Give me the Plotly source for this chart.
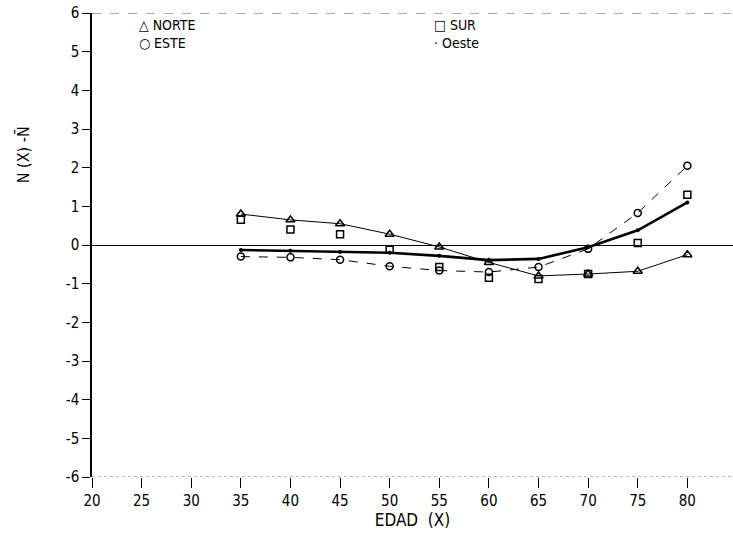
import plotly.graph_objects as go

# Edad (X) y desviación N(X) - N̄ por orientación
edad = [35, 40, 45, 50, 55, 60, 65, 70, 75, 80]
norte = [0.80, 0.65, 0.55, 0.28, -0.05, -0.45, -0.80, -0.75, -0.68, -0.25]
este = [-0.30, -0.32, -0.38, -0.55, -0.66, -0.70, -0.57, -0.10, 0.83, 2.05]
sur = [0.65, 0.40, 0.28, -0.12, -0.57, -0.85, -0.88, -0.75, 0.05, 1.30]
oeste = [-0.13, -0.15, -0.18, -0.20, -0.28, -0.39, -0.36, -0.06, 0.38, 1.10]

x_ticks = list(range(20, 85, 5))
y_ticks = list(range(-6, 7))

FONT = "DejaVu Sans Condensed, Liberation Sans Narrow, Arial Narrow, sans-serif"

fig = go.Figure()

fig.add_trace(go.Scatter(
    x=edad, y=oeste, mode="lines+markers", name="Oeste",
    line=dict(color="black", width=2.6),
    marker=dict(symbol="circle", size=4, color="black"),
))
fig.add_trace(go.Scatter(
    x=edad, y=norte, mode="lines+markers", name="NORTE",
    line=dict(color="black", width=1),
    marker=dict(symbol="triangle-up-open", size=8, color="black", line=dict(width=1.5)),
))
fig.add_trace(go.Scatter(
    x=edad, y=este, mode="lines+markers", name="ESTE",
    line=dict(color="black", width=1, dash="dash"),
    marker=dict(symbol="circle-open", size=7, color="black", line=dict(width=1.5)),
))
fig.add_trace(go.Scatter(
    x=edad, y=sur, mode="markers", name="SUR",
    marker=dict(symbol="square-open", size=7, color="black", line=dict(width=1.5)),
))

# top and bottom frame lines
fig.add_shape(type="line", xref="paper", yref="y", x0=0, x1=1, y0=6, y1=6,
              line=dict(color="#555", width=1, dash="dash"))
fig.add_shape(type="line", xref="paper", yref="y", x0=0, x1=1, y0=-6, y1=-6,
              line=dict(color="#777", width=1, dash="dot"))

# legend written as text
legend_items = [
    ("\u25b3 NORTE", 0.07, 0.975),
    ("\u25cb ESTE", 0.07, 0.935),
    ("\u25a1 SUR", 0.53, 0.975),
    ("\u00b7 Oeste", 0.53, 0.935),
]
for txt, lx, ly in legend_items:
    fig.add_annotation(text=txt, x=lx, y=ly, xref="paper", yref="paper",
                       xanchor="left", yanchor="middle", showarrow=False,
                       font=dict(family=FONT, size=14, color="black"))

fig.add_annotation(text="N (X) -N\u0304", x=-0.125, y=0.76, xref="paper", yref="paper",
                   textangle=-90, showarrow=False,
                   font=dict(family=FONT, size=16, color="black"))

fig.update_layout(
    width=733, height=533,
    margin=dict(l=92, r=0, t=13, b=56),
    paper_bgcolor="white", plot_bgcolor="white",
    showlegend=False,
    font=dict(family=FONT, size=15, color="black"),
    xaxis=dict(
        range=[20, 84.6], tickvals=x_ticks, ticktext=[str(v) for v in x_ticks],
        showgrid=False, zeroline=False, showline=False,
        ticks="outside", ticklen=10, tickcolor="black", tickwidth=1,
        title=dict(text="EDAD  (X)", font=dict(family=FONT, size=17), standoff=0),
    ),
    yaxis=dict(
        range=[-6, 6], tickvals=y_ticks, ticktext=[str(v) for v in y_ticks],
        showgrid=False, showline=True, linecolor="black", linewidth=1.5,
        zeroline=True, zerolinecolor="black", zerolinewidth=1,
        ticks="outside", ticklen=8, tickcolor="black", tickwidth=1,
    ),
)

fig.write_html("out.html")
